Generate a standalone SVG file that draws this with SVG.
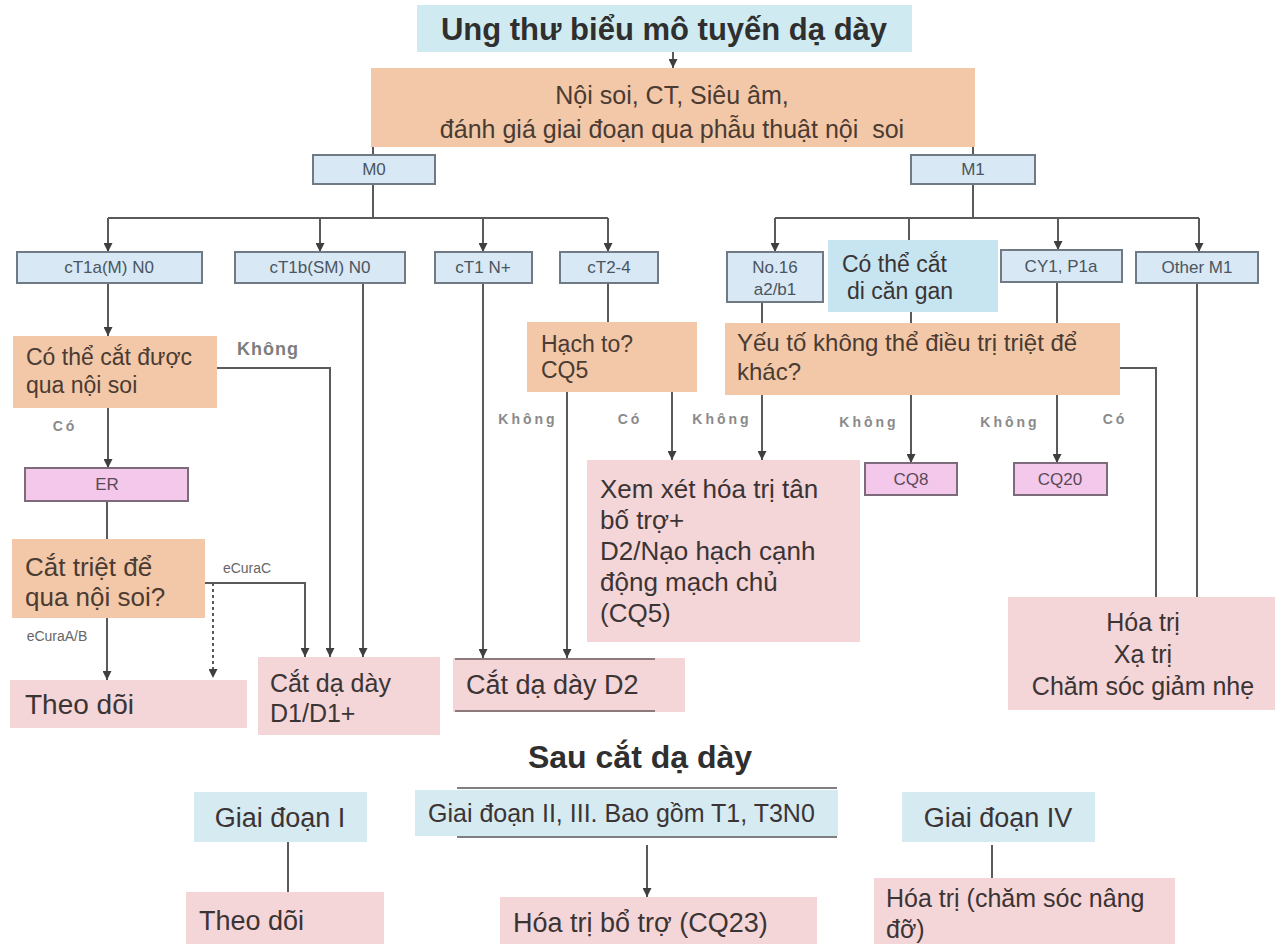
<svg xmlns="http://www.w3.org/2000/svg" width="1278" height="944" viewBox="0 0 1278 944">
<defs>
<style>
text{font-family:"Liberation Sans",Arial,sans-serif;fill:#3b3434}
.ttl{font-weight:bold;font-size:31px;fill:#2f2f2f}
.or{fill:#f3c8a8}
.tb{fill:#d0eaf2}
.sb{fill:#d8e8f5;stroke:#6f7a84;stroke-width:2}
.pk{fill:#f3c8ea;stroke:#7d6a7a;stroke-width:2}
.rs{fill:#f4d5d8}
.gb{fill:#d6eaf2}
.cb{fill:#c6e5f0}
.sl{font-size:17px;fill:#4a5560}
.pl{font-size:17px;fill:#5a4a58}
.lb{font-size:14px;font-weight:bold;fill:#8a8a8a;letter-spacing:3px}
.ec{font-size:14px;fill:#666}
.ot{fill:#4a3b33}
.ln{fill:none;stroke:#5a5a5a;stroke-width:2}
.dl{fill:none;stroke:#5a5a5a;stroke-width:2;stroke-dasharray:3 3}
.mid{text-anchor:middle}
</style>
<marker id="ah" viewBox="0 0 10 10" refX="10" refY="5" markerWidth="9" markerHeight="9" markerUnits="userSpaceOnUse" orient="auto">
<path d="M0,0 L10,5 L0,10 z" fill="#3f3f3f"/>
</marker>
</defs>
<rect width="1278" height="944" fill="#ffffff"/>

<g id="connectors">
<line class="ln" x1="673" y1="52" x2="673" y2="68" marker-end="url(#ah)"/>
<line class="ln" x1="373" y1="147" x2="373" y2="155"/>
<line class="ln" x1="973" y1="147" x2="973" y2="155"/>
<path class="ln" d="M373,184 V218 M108,218 H608"/>
<line class="ln" x1="108" y1="218" x2="108" y2="252" marker-end="url(#ah)"/>
<line class="ln" x1="320" y1="218" x2="320" y2="252" marker-end="url(#ah)"/>
<line class="ln" x1="483" y1="218" x2="483" y2="252" marker-end="url(#ah)"/>
<line class="ln" x1="608" y1="218" x2="608" y2="252" marker-end="url(#ah)"/>
<path class="ln" d="M973,184 V218 M775,218 H1199 M909,218 V240"/>
<line class="ln" x1="775" y1="218" x2="775" y2="252" marker-end="url(#ah)"/>
<line class="ln" x1="1058" y1="218" x2="1058" y2="250" marker-end="url(#ah)"/>
<line class="ln" x1="1199" y1="218" x2="1199" y2="252" marker-end="url(#ah)"/>
<line class="ln" x1="108" y1="283" x2="108" y2="336" marker-end="url(#ah)"/>
<path class="ln" d="M217,368 H330 V657" marker-end="url(#ah)"/>
<line class="ln" x1="363" y1="283" x2="363" y2="657" marker-end="url(#ah)"/>
<line class="ln" x1="108" y1="408" x2="108" y2="468" marker-end="url(#ah)"/>
<line class="ln" x1="107" y1="501" x2="107" y2="539"/>
<path class="ln" d="M205,583 H305 V657" marker-end="url(#ah)"/>
<path class="dl" d="M213,583 V678" marker-end="url(#ah)"/>
<line class="ln" x1="107" y1="618" x2="107" y2="680" marker-end="url(#ah)"/>
<line class="ln" x1="608" y1="283" x2="608" y2="322"/>
<line class="ln" x1="483" y1="283" x2="483" y2="658" marker-end="url(#ah)"/>
<line class="ln" x1="567" y1="392" x2="567" y2="658" marker-end="url(#ah)"/>
<line class="ln" x1="672" y1="392" x2="672" y2="460" marker-end="url(#ah)"/>
<line class="ln" x1="762" y1="302" x2="762" y2="323"/>
<line class="ln" x1="762" y1="395" x2="762" y2="460" marker-end="url(#ah)"/>
<line class="ln" x1="911" y1="312" x2="911" y2="323"/>
<line class="ln" x1="911" y1="395" x2="911" y2="463" marker-end="url(#ah)"/>
<line class="ln" x1="1057" y1="282" x2="1057" y2="323"/>
<line class="ln" x1="1057" y1="395" x2="1057" y2="463" marker-end="url(#ah)"/>
<path class="ln" d="M1120,368 H1156 V597"/>
<line class="ln" x1="1197" y1="283" x2="1197" y2="597"/>
<line class="ln" x1="288" y1="842" x2="288" y2="892"/>
<line class="ln" x1="647" y1="845" x2="647" y2="897" marker-end="url(#ah)"/>
<line class="ln" x1="992" y1="845" x2="992" y2="878"/>
</g>

<g id="labels">
<text x="268" y="355" class="mid" style="font-size:18px;font-weight:bold;fill:#7d7d7d;letter-spacing:1px">Không</text>
<text x="65" y="431" class="lb mid">Có</text>
<text x="247" y="573" class="ec mid">eCuraC</text>
<text x="57" y="641" class="ec mid">eCuraA/B</text>
<text x="528" y="424" class="lb mid">Không</text>
<text x="630" y="424" class="lb mid">Có</text>
<text x="722" y="424" class="lb mid">Không</text>
<text x="869" y="427" class="lb mid">Không</text>
<text x="1010" y="427" class="lb mid">Không</text>
<text x="1115" y="424" class="lb mid">Có</text>
</g>

<g id="n-title"><rect class="tb" x="417" y="5" width="495" height="47"/><text x="664" y="40" class="ttl mid">Ung thư biểu mô tuyến dạ dày</text></g>
<g id="n-eval"><rect class="or" x="371" y="68" width="604" height="79"/>
<text x="672" y="104" class="mid ot" style="font-size:25px">Nội soi, CT, Siêu âm,</text>
<text x="672" y="138" class="mid ot" style="font-size:25px;white-space:pre">đánh giá giai đoạn qua phẫu thuật nội  soi</text></g>
<g id="n-m0"><rect class="sb" x="313" y="155" width="122" height="29"/><text x="374" y="175" class="sl mid">M0</text></g>
<g id="n-m1"><rect class="sb" x="911" y="155" width="124" height="29"/><text x="973" y="175" class="sl mid">M1</text></g>
<g id="n-ct1a"><rect class="sb" x="17" y="252" width="185" height="31"/><text x="109" y="273" class="sl mid">cT1a(M) N0</text></g>
<g id="n-ct1b"><rect class="sb" x="235" y="252" width="170" height="31"/><text x="320" y="273" class="sl mid">cT1b(SM) N0</text></g>
<g id="n-ct1n"><rect class="sb" x="435" y="252" width="97" height="31"/><text x="483" y="273" class="sl mid">cT1 N+</text></g>
<g id="n-ct24"><rect class="sb" x="560" y="252" width="98" height="31"/><text x="609" y="273" class="sl mid">cT2-4</text></g>
<g id="n-no16"><rect class="sb" x="727" y="252" width="96" height="50"/><text x="775" y="273" class="sl mid">No.16</text><text x="775" y="295" class="sl mid">a2/b1</text></g>
<g id="n-liver"><rect class="cb" x="828" y="240" width="170" height="72"/><text x="842" y="272" style="font-size:23px">Có thể cắt</text><text x="847" y="299" style="font-size:23px">di căn gan</text></g>
<g id="n-cy1"><rect class="sb" x="1001" y="250" width="121" height="32"/><text x="1061" y="272" class="sl mid">CY1, P1a</text></g>
<g id="n-other"><rect class="sb" x="1136" y="252" width="122" height="31"/><text x="1197" y="273" class="sl mid">Other M1</text></g>
<g id="n-endo"><rect class="or" x="13" y="336" width="204" height="72"/><text x="26" y="365" class="ot" style="font-size:23px">Có thể cắt được</text><text x="26" y="393" class="ot" style="font-size:23px">qua nội soi</text></g>
<g id="n-er"><rect class="pk" x="25" y="468" width="163" height="33"/><text x="107" y="490" class="pl mid">ER</text></g>
<g id="n-cure"><rect class="or" x="12" y="539" width="193" height="79"/><text x="25" y="576" class="ot" style="font-size:26px">Cắt triệt để</text><text x="25" y="606" class="ot" style="font-size:26px">qua nội soi?</text></g>
<g id="n-follow1"><rect class="rs" x="10" y="680" width="237" height="48"/><text x="25" y="714" style="font-size:28px">Theo dõi</text></g>
<g id="n-d1"><rect class="rs" x="258" y="657" width="182" height="78"/><text x="270" y="692" style="font-size:25px">Cắt dạ dày</text><text x="270" y="722" style="font-size:25px">D1/D1+</text></g>
<g id="n-node"><rect class="or" x="527" y="322" width="170" height="70"/><text x="541" y="352" class="ot" style="font-size:23px">Hạch to?</text><text x="541" y="378" class="ot" style="font-size:23px">CQ5</text></g>
<g id="n-other-factor"><rect class="or" x="725" y="323" width="395" height="72"/><text x="737" y="351" class="ot" style="font-size:24px">Yếu tố không thể điều trị triệt để</text><text x="737" y="380" class="ot" style="font-size:24px">khác?</text></g>
<g id="n-neo"><rect class="rs" x="587" y="460" width="273" height="182"/>
<text x="600" y="498" style="font-size:26px">Xem xét hóa trị tân</text>
<text x="600" y="529" style="font-size:26px">bố trợ+</text>
<text x="600" y="560" style="font-size:26px">D2/Nạo hạch cạnh</text>
<text x="600" y="591" style="font-size:26px">động mạch chủ</text>
<text x="600" y="622" style="font-size:26px">(CQ5)</text></g>
<g id="n-d2"><rect class="rs" x="453" y="658" width="232" height="54"/><line x1="455" y1="659" x2="655" y2="659" stroke="#6a5a5c" stroke-width="1.5"/><line x1="455" y1="711" x2="655" y2="711" stroke="#6a5a5c" stroke-width="1.5"/><text x="466" y="694" style="font-size:27px">Cắt dạ dày D2</text></g>
<g id="n-cq8"><rect class="pk" x="865" y="463" width="92" height="32"/><text x="911" y="485" class="pl mid">CQ8</text></g>
<g id="n-cq20"><rect class="pk" x="1014" y="463" width="93" height="32"/><text x="1060" y="485" class="pl mid">CQ20</text></g>
<g id="n-chemo"><rect class="rs" x="1008" y="597" width="267" height="113"/>
<text x="1143" y="631" class="mid" style="font-size:25px">Hóa trị</text>
<text x="1143" y="663" class="mid" style="font-size:25px">Xạ trị</text>
<text x="1143" y="695" class="mid" style="font-size:25px">Chăm sóc giảm nhẹ</text></g>

<g id="n-after"><text x="640" y="768" class="ttl mid" style="font-size:32px">Sau cắt dạ dày</text></g>
<g id="n-stage1"><rect class="gb" x="194" y="792" width="173" height="50"/><text x="280" y="827" class="mid" style="font-size:27px">Giai đoạn I</text></g>
<g id="n-follow2"><rect class="rs" x="186" y="892" width="198" height="52"/><text x="199" y="930" style="font-size:27px">Theo dõi</text></g>
<g id="n-stage23"><rect class="gb" x="415" y="790" width="423" height="46"/><line x1="457" y1="788" x2="837" y2="788" stroke="#555" stroke-width="1.5"/><line x1="457" y1="837" x2="837" y2="837" stroke="#555" stroke-width="1.5"/><text x="428" y="822" style="font-size:25px">Giai đoạn II, III. Bao gồm T1, T3N0</text></g>
<g id="n-adj"><rect class="rs" x="500" y="897" width="317" height="47"/><text x="513" y="932" style="font-size:27px">Hóa trị bổ trợ (CQ23)</text></g>
<g id="n-stage4"><rect class="gb" x="902" y="792" width="193" height="50"/><text x="998" y="827" class="mid" style="font-size:27px">Giai đoạn IV</text></g>
<g id="n-support"><rect class="rs" x="874" y="878" width="301" height="66"/><text x="886" y="907" style="font-size:25px">Hóa trị (chăm sóc nâng</text><text x="886" y="938" style="font-size:25px">đỡ)</text></g>
</svg>
